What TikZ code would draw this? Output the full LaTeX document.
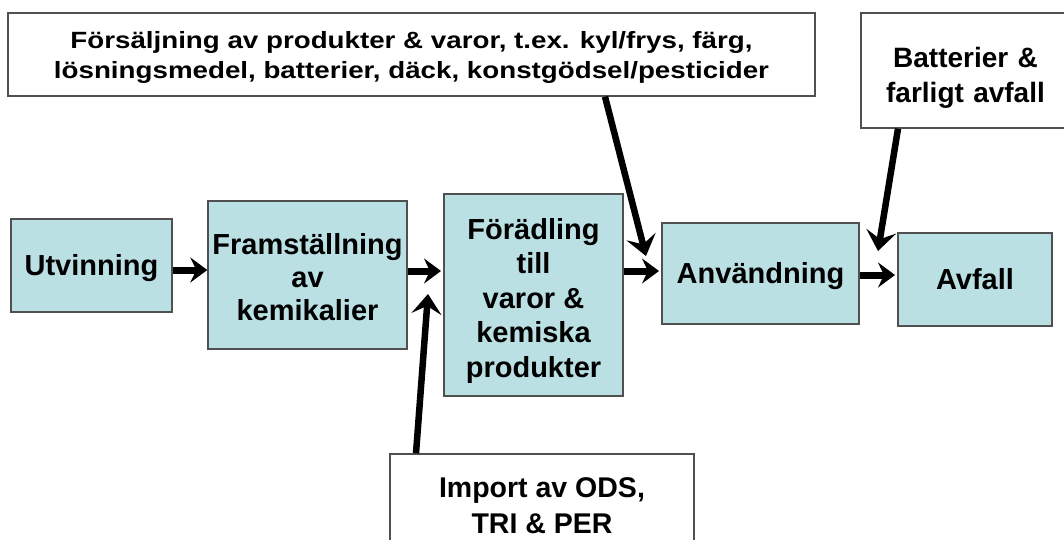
\documentclass[tikz,border=0pt]{standalone}
\usepackage{fontspec}
\setmainfont{Liberation Sans}
\newfontfamily\widefont[FakeStretch=1.18]{Liberation Sans}
\usetikzlibrary{arrows.meta}
\definecolor{boxblue}{RGB}{186,224,228}
\definecolor{edgegray}{RGB}{80,80,80}
\tikzset{
  bluebox/.style={draw=edgegray,line width=1.4pt,fill=boxblue,align=center,inner sep=0pt,
    font=\fontsize{29}{34.5}\selectfont\bfseries},
  oneline/.style={text height=20.8pt,text depth=0pt},
  whitebox/.style={draw=edgegray,line width=1.4pt,fill=white,align=center,inner sep=0pt,
    font=\fontsize{28}{35}\selectfont\bfseries},
  harr/.style={line width=7pt,-{Stealth[length=17pt,width=25pt,inset=6pt]}},
  varr/.style={line width=6.5pt,-{Stealth[length=20pt,width=30pt,inset=8pt]}},
}
\begin{document}
\begin{tikzpicture}[x=1pt,y=-1pt]
\useasboundingbox (0,0) rectangle (1064,539);
\begin{scope}
\clip (0,0) rectangle (1064,539);
\node[bluebox,oneline,minimum width=161pt,minimum height=93pt] (ut) at (91.5,265.5) {Utvinning};
\node[bluebox,font=\fontsize{29}{33}\selectfont\bfseries,minimum width=199pt,minimum height=148pt] (fr) at (307.5,275) {\rule{0pt}{25pt}Framställning\\av\\kemikalier};
\node[bluebox,minimum width=179pt,minimum height=202pt] (fo) at (533.5,295) {\rule{0pt}{32pt}Förädling\\till\\varor \&\\kemiska\\produkter};
\node[bluebox,oneline,minimum width=197pt,minimum height=101pt] (an) at (760.5,273.5) {Användning};
\node[bluebox,oneline,minimum width=154pt,minimum height=93pt] (av) at (975,279.5) {Avfall};
\node[whitebox,font=\fontsize{23.5}{30}\selectfont\widefont\bfseries,minimum width=807pt,minimum height=83pt] (top) at (411.5,54.5) {\rule{0pt}{22pt}Försäljning av produkter \& varor, t.ex. kyl/frys, färg,\\lösningsmedel, batterier, däck, konstgödsel/pesticider};
\node[whitebox,minimum width=209pt,minimum height=115pt,text width=205pt] (bat) at (965.5,70.5) {\rule{0pt}{34pt}Batterier \&\\farligt avfall};
\node[whitebox,font=\fontsize{28.5}{36}\selectfont\bfseries,minimum width=304pt,minimum height=104pt] (imp) at (542,506) {Import av ODS,\\TRI \& PER};

\coordinate (y1) at (0,270);
\coordinate (y2) at (0,271);
\coordinate (y3) at (0,275);
\coordinate (t2) at (441,271);
\coordinate (t3) at (659,271);
\coordinate (t4) at (895,275);
\draw[harr] (ut.east |- y1) -- (fr.west |- y1);
\draw[harr] (fr.east |- y2) -- (t2);
\draw[harr] (fo.east |- y2) -- (t3);
\draw[harr] (an.east |- y3) -- (t4);

\coordinate (s1) at (605,0);
\coordinate (e1) at (646,256);
\coordinate (s2) at (898,0);
\coordinate (e2) at (878,251);
\coordinate (s3) at (416,0);
\coordinate (e3) at (428,294);
\draw[varr] (top.south -| s1) -- (e1);
\draw[varr] (bat.south -| s2) -- (e2);
\draw[varr] (imp.north -| s3) -- (e3);
\end{scope}
\end{tikzpicture}
\end{document}
